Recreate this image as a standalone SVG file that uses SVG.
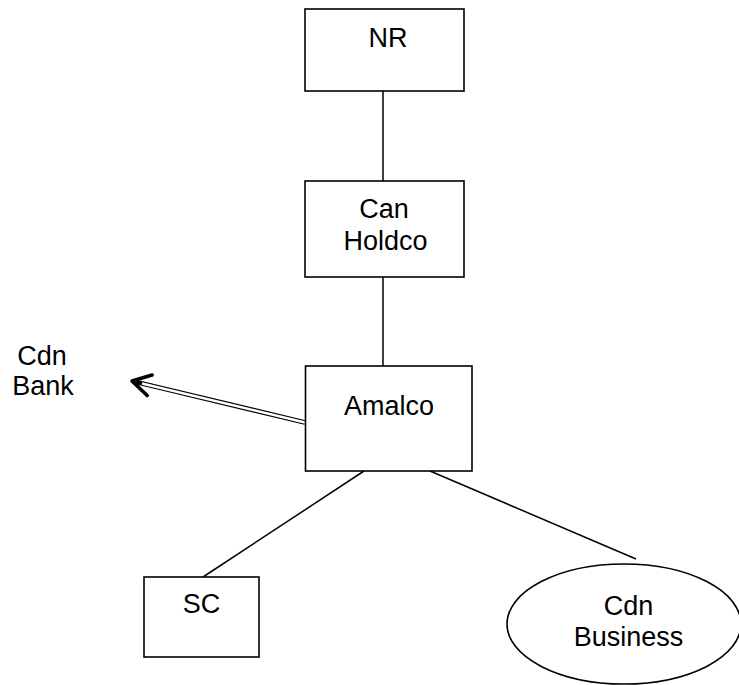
<svg xmlns="http://www.w3.org/2000/svg" width="739" height="685" viewBox="0 0 739 685">
<style>
.box{fill:#fff;stroke:#000;stroke-width:1.6}
.t{font-family:"Liberation Sans",Arial,sans-serif;font-size:27px;fill:#000;text-anchor:middle}
.c{stroke:#000;stroke-width:1.5;fill:none}
</style>
<rect width="739" height="685" fill="#fff"/>
<g id="connectors">
<line class="c" x1="383" y1="91" x2="383" y2="181"/>
<line class="c" x1="383" y1="277" x2="383" y2="366"/>
<line class="c" x1="364" y1="471" x2="203" y2="577"/>
<line class="c" x1="430" y1="471" x2="636" y2="559"/>
<g id="arrow-cdn-bank">
<line x1="305" y1="422.5" x2="136" y2="382" stroke="#000" stroke-width="4.8"/>
<line x1="305" y1="422.5" x2="142" y2="383.5" stroke="#fff" stroke-width="2.4"/>
<polyline points="152.1,375 132,381 147.2,395.5" fill="none" stroke="#000" stroke-width="3.6" stroke-linecap="round" stroke-linejoin="round"/>
</g>
</g>
<g id="node-nr">
<rect class="box" x="305" y="9" width="159" height="82"/>
<text class="t" x="388" y="47">NR</text>
</g>
<g id="node-canholdco">
<rect class="box" x="305" y="181" width="159" height="96"/>
<text class="t" x="384" y="218">Can</text>
<text class="t" x="385.5" y="250">Holdco</text>
</g>
<g id="node-amalco">
<rect class="box" x="305.5" y="366" width="166.5" height="105"/>
<text class="t" x="389" y="415">Amalco</text>
</g>
<g id="node-cdnbank">
<text class="t" x="42" y="365">Cdn</text>
<text class="t" x="43" y="395">Bank</text>
</g>
<g id="node-sc">
<rect class="box" x="144" y="577" width="115" height="80"/>
<text class="t" x="201.5" y="613">SC</text>
</g>
<g id="node-cdnbusiness">
<ellipse class="box" cx="624" cy="624" rx="117" ry="60"/>
<text class="t" x="628.5" y="615">Cdn</text>
<text class="t" x="628.5" y="646">Business</text>
</g>
</svg>
